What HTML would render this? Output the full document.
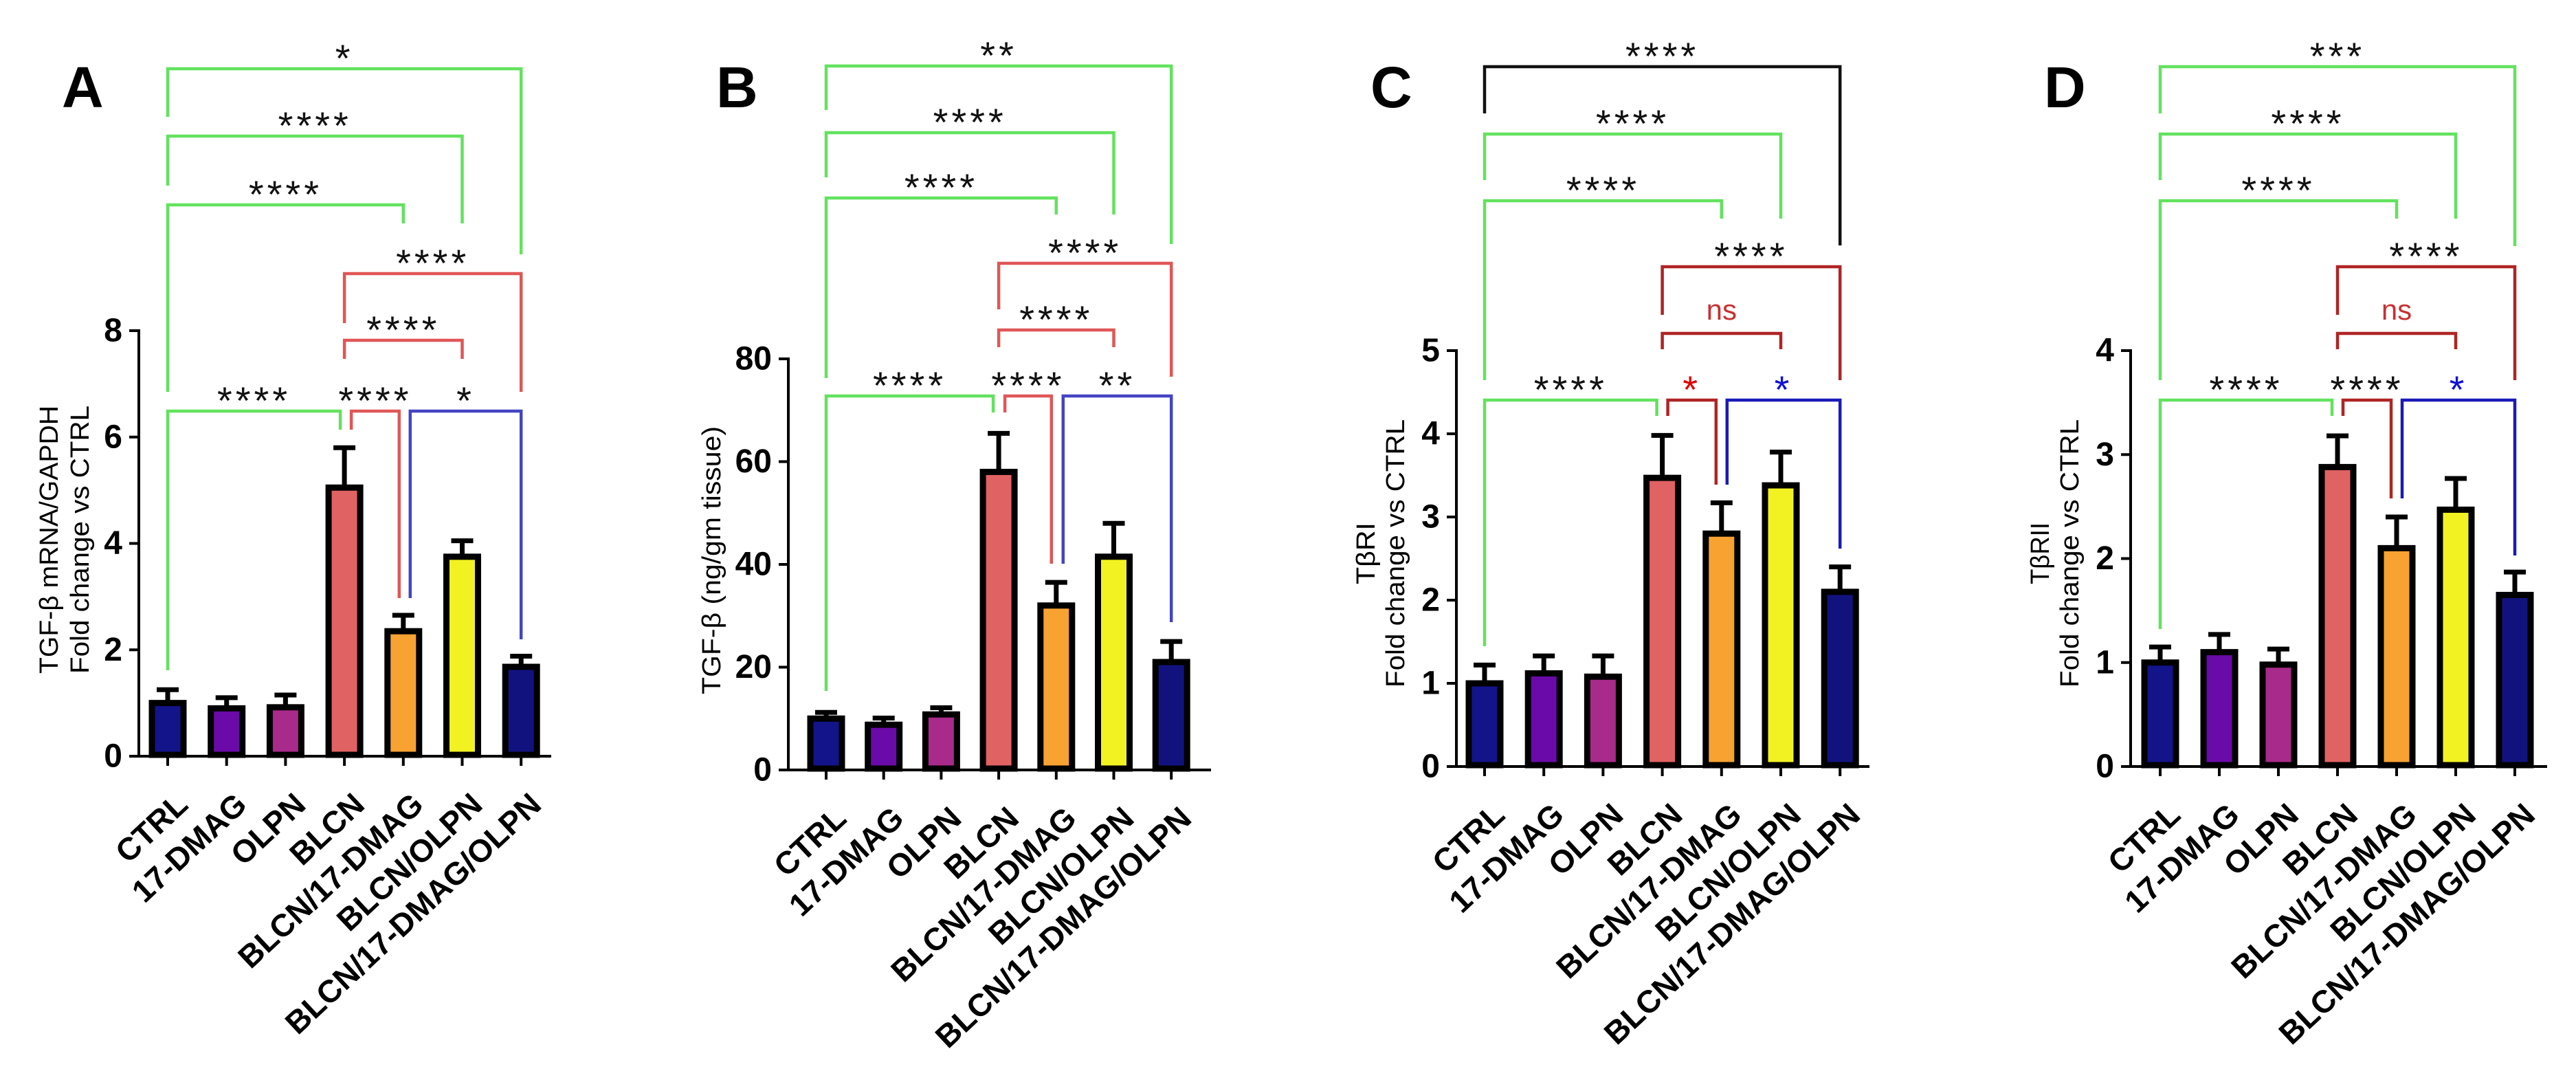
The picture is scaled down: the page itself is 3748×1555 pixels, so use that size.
<!DOCTYPE html>
<html><head><meta charset="utf-8"><style>
html,body{margin:0;padding:0;background:#fff;}
svg{display:block;font-family:"Liberation Sans",Arial,sans-serif;}
</style></head><body>
<svg id="fig" width="3748" height="1555" viewBox="0 0 3748 1555" xmlns="http://www.w3.org/2000/svg"></svg>
<script>
const categories = ["CTRL","17-DMAG","OLPN","BLCN","BLCN/17-DMAG","BLCN/OLPN","BLCN/17-DMAG/OLPN"];
const barColors = ["#13138a","#6a0aa8","#a82a8a","#e06262","#f8a232","#f2f222","#12127e"];
const valuesA = [1.0, 0.9, 0.92, 5.05, 2.35, 3.75, 1.68];
const errA    = [0.25, 0.2, 0.23, 0.75, 0.3, 0.3, 0.2];
const valuesB = [10, 8.8, 10.8, 58, 32, 41.5, 21];
const errB    = [1.2, 1.3, 1.3, 7.5, 4.5, 6.5, 4];
const valuesC = [1.0, 1.12, 1.08, 3.47, 2.8, 3.38, 2.1];
const errC    = [0.22, 0.21, 0.25, 0.51, 0.37, 0.4, 0.3];
const valuesD = [1.0, 1.1, 0.98, 2.88, 2.1, 2.47, 1.65];
const errD    = [0.15, 0.17, 0.15, 0.3, 0.3, 0.3, 0.22];
const ticksA = [0,2,4,6,8];
const ticksB = [0,20,40,60,80];
const ticksC = [0,1,2,3,4,5];
const ticksD = [0,1,2,3,4];

const G="#62e25e", R="#e05656", DR="#b02424", B="#4444c4", BB="#1a1ab8", K="#111";
const panels = [
 {id:"a", letter:"A", lx:90, axisX:202, y0:1100, yTop:481, max:8, ticks:ticksA, vals:valuesA, errs:errA, x0:244, dx:85.7, end:802,
  titles:["TGF-β mRNA/GAPDH","Fold change vs CTRL"], tx:[72,117], ty:785,
  br:[[0,6,100,170,370,"*",G,K,0,0],[0,5,198,270,325,"****",G,K,0,0],[0,4,298,570,325,"****",G,K,0,0],
      [3,6,398,470,570,"****",R,K,0,0],[3,5,495,522,522,"****",R,K,0,0],
      [0,3,598,975,625,"****",G,K,0,-6],[3,4,598,625,870,"****",R,K,10,-6],[4,6,598,870,930,"*",B,K,10,0]]},
 {id:"b", letter:"B", lx:1042, axisX:1147, y0:1120, yTop:522, max:80, ticks:ticksB, vals:valuesB, errs:errB, x0:1202, dx:83.7, end:1762,
  titles:["TGF-β (ng/gm tissue)"], tx:[1036], ty:815,
  br:[[0,6,96,160,355,"**",G,K,0,0],[0,5,193,258,312,"****",G,K,0,0],[0,4,288,550,312,"****",G,K,0,0],
      [3,6,383,450,548,"****",R,K,0,0],[3,5,480,505,505,"****",R,K,0,0],
      [0,3,576,1005,600,"****",G,K,0,-8],[3,4,576,600,820,"****",R,K,9,-7],[4,6,576,820,905,"**",B,K,10,0]]},
 {id:"c", letter:"C", lx:1994, axisX:2119, y0:1115, yTop:510, max:5, ticks:ticksC, vals:valuesC, errs:errC, x0:2160, dx:86.2, end:2720,
  titles:["TβRI","Fold change vs CTRL"], tx:[1988,2031], ty:805,
  br:[[0,6,97,165,357,"****",K,K,0,0],[0,5,195,262,318,"****",G,K,0,0],[0,4,292,553,318,"****",G,K,0,0],
      [3,6,388,458,553,"****",DR,K,0,0],[3,5,485,508,508,"ns",DR,"#c83030",0,0],
      [0,3,582,940,605,"****",G,K,0,-8],[3,4,582,605,705,"*",DR,"#e00000",8,-8],[4,6,582,705,798,"*",BB,"#1010d8",8,0]]},
 {id:"d", letter:"D", lx:2974, axisX:3100, y0:1115, yTop:510, max:4, ticks:ticksD, vals:valuesD, errs:errD, x0:3143, dx:86, end:3706,
  titles:["TβRII","Fold change vs CTRL"], tx:[2969,3012], ty:805,
  br:[[0,6,97,165,358,"***",G,K,0,0],[0,5,195,262,318,"****",G,K,0,0],[0,4,292,553,318,"****",G,K,0,0],
      [3,6,388,458,553,"****",DR,K,0,0],[3,5,485,508,508,"ns",DR,"#c83030",0,0],
      [0,3,582,915,605,"****",G,K,0,-8],[3,4,582,605,725,"****",DR,K,8,-8],[4,6,582,725,808,"*",BB,"#1010d8",8,0]]}
];

const NS="http://www.w3.org/2000/svg";
const svg=document.getElementById("fig");
function mk(tag, attrs, parent){const e=document.createElementNS(NS,tag);for(const k in attrs)e.setAttribute(k,attrs[k]);(parent||svg).appendChild(e);return e;}

panels.forEach(p=>{
  const g=mk("g",{});
  
  
  const yS=v=>p.y0-(v/p.max)*(p.y0-p.yTop);
  const xS=i=>p.x0+i*p.dx;
  const L=mk("text",{x:p.lx,y:156,"font-size":84,"font-weight":"bold",fill:"#000"},g);L.textContent=p.letter;
  
  
  p.titles.forEach((t,k)=>{
    const tt=mk("text",{x:p.tx[k],y:p.ty,"font-size":38,"text-anchor":"middle","dominant-baseline":"central",transform:`rotate(-90 ${p.tx[k]} ${p.ty})`,fill:"#000",textLength:t.length<8?90:390,lengthAdjust:"spacingAndGlyphs"},g);
    tt.textContent=t;
    
    
  });
  const ya=mk("line",{x1:p.axisX,y1:yS(p.max)-2,x2:p.axisX,y2:p.y0+2,stroke:"#000","stroke-width":4},g);
  
  
  const xa=mk("line",{x1:p.axisX-14,y1:p.y0,x2:p.end,y2:p.y0,stroke:"#000","stroke-width":4},g);
  
  
  p.ticks.forEach(t=>{
    mk("line",{x1:p.axisX-14,y1:yS(t),x2:p.axisX,y2:yS(t),stroke:"#000","stroke-width":4},g);
    const tl=mk("text",{x:p.axisX-24,y:yS(t),"font-size":48,"font-weight":"bold","text-anchor":"end","dominant-baseline":"central",fill:"#000"},g);
    tl.textContent=t;
    
    
  });
  p.vals.forEach((v,i)=>{
    const cx=xS(i), top=yS(v), errTop=yS(v+p.errs[i]);
    const e=mk("line",{x1:cx,y1:top,x2:cx,y2:errTop,stroke:"#000","stroke-width":7},g);
    
    
    mk("line",{x1:cx-16,y1:errTop,x2:cx+16,y2:errTop,stroke:"#000","stroke-width":7},g);
    const r=mk("rect",{x:cx-23,y:top,width:46,height:p.y0-top-2,fill:barColors[i],stroke:"#000","stroke-width":9},g);
    
    
    mk("line",{x1:cx,y1:p.y0,x2:cx,y2:p.y0+14,stroke:"#000","stroke-width":4},g);
    const ax=cx+32, ay=p.y0+74;
    const xl=mk("text",{x:ax,y:ay,"font-size":46,"font-weight":"bold","text-anchor":"end",transform:`rotate(-43 ${ax} ${ay})`,fill:"#000"},g);
    xl.textContent=categories[i];
    
    
  });
  p.br.forEach(b=>{
    const [i,j,yl,lb,rb,lab,col,tcol,ol,or]=b;
    const xa1=xS(i)+ol, xb1=xS(j)+or;
    const pl=mk("polyline",{points:`${xa1},${lb} ${xa1},${yl} ${xb1},${yl} ${xb1},${rb}`,fill:"none",stroke:col,"stroke-width":4.5},g);
    
    
    const mx=(xa1+xb1)/2;
    let t;
    if(lab==="ns"){t=mk("text",{x:mx,y:yl-20,"font-size":42,"text-anchor":"middle",fill:tcol},g);}
    else {t=mk("text",{x:mx,y:yl+4,"font-size":56,"text-anchor":"middle",fill:tcol,"letter-spacing":5},g);}
    t.textContent=lab;
    
    
  });
});
</script>
</body></html>
